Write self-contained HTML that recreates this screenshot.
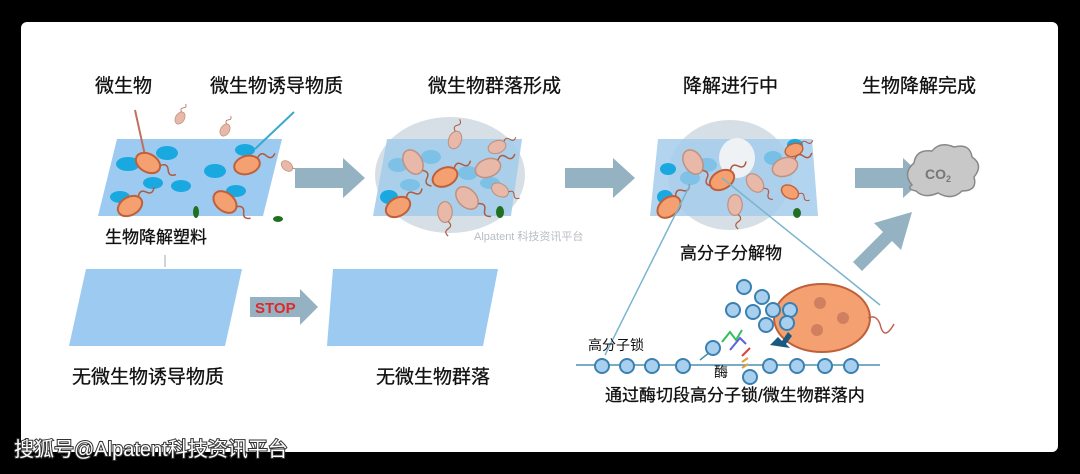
<!DOCTYPE html>
<html><head><meta charset="utf-8"><style>
html,body{margin:0;padding:0;background:#000;}
body{width:1080px;height:474px;overflow:hidden;position:relative;font-family:"Liberation Sans","Noto Sans CJK SC",sans-serif;}
svg{position:absolute;left:0;top:0;}
</style></head><body>
<svg width="1080" height="474" viewBox="0 0 1080 474" xmlns="http://www.w3.org/2000/svg" font-family="Liberation Sans, Noto Sans CJK SC, sans-serif">
<defs>
<g id="bac"><ellipse cx="0" cy="0" rx="13" ry="9" fill="#f4a070" stroke="#c0603a" stroke-width="2"/><path d="M12,-4 q5,-6 9,0 q4,6 9,0" fill="none" stroke="#b05a40" stroke-width="1.5"/></g>
<g id="bacp"><ellipse cx="0" cy="0" rx="13" ry="9" fill="#e8b8a8" stroke="#c09080" stroke-width="1.5"/><path d="M12,-4 q5,-6 9,0 q4,6 9,0" fill="none" stroke="#b05a40" stroke-width="1.5"/></g>
</defs>
<rect x="21" y="22" width="1037" height="430" rx="6" fill="#fff"/>

<!-- Panel 1 -->
<polygon points="117,139 282,139 263,216 98,216" fill="#9ccaf0"/>
<g fill="#1aa8e0">
<ellipse cx="167" cy="153" rx="11" ry="7"/><ellipse cx="128" cy="164" rx="12" ry="7"/><ellipse cx="153" cy="183" rx="10" ry="6"/>
<ellipse cx="181" cy="186" rx="10" ry="6"/><ellipse cx="215" cy="171" rx="11" ry="7"/><ellipse cx="245" cy="150" rx="10" ry="6"/>
<ellipse cx="236" cy="191" rx="10" ry="6"/><ellipse cx="120" cy="197" rx="10" ry="6"/>
</g>
<line x1="135" y1="110" x2="146" y2="160" stroke="#c07060" stroke-width="2"/>
<line x1="255" y1="149" x2="294" y2="112" stroke="#3aa8d0" stroke-width="2"/>
<use href="#bac" transform="translate(148,163) rotate(30)"/>
<use href="#bac" transform="translate(247,165) rotate(-15)"/>
<use href="#bac" transform="translate(130,206) rotate(-30)"/>
<use href="#bac" transform="translate(225,202) rotate(40)"/>
<use href="#bacp" transform="translate(180,118) rotate(-60) scale(0.5)"/>
<use href="#bacp" transform="translate(225,130) rotate(-60) scale(0.5)"/>
<use href="#bacp" transform="translate(287,166) rotate(40) scale(0.5)"/>
<ellipse cx="196" cy="212" rx="3" ry="6" fill="#207020"/>
<ellipse cx="278" cy="219" rx="5" ry="3" fill="#207020"/>
<polygon points="295,168 343,168 343,158 365,178 343,198 343,188 295,188" fill="#95b2c2"/>

<!-- Panel 2 -->
<ellipse cx="450" cy="175" rx="75" ry="58" fill="#d6dfe6"/>
<polygon points="387,139 522,139 511,216 373,216" fill="#a5cdeb" opacity="0.9"/>
<g fill="#60b8e4" opacity="0.6"><ellipse cx="431" cy="157" rx="10" ry="7"/><ellipse cx="398" cy="165" rx="10" ry="7"/><ellipse cx="468" cy="173" rx="10" ry="7"/><ellipse cx="410" cy="185" rx="10" ry="6"/><ellipse cx="490" cy="183" rx="10" ry="6"/></g>
<ellipse cx="389" cy="197" rx="9" ry="7" fill="#1aa8e0"/>
<use href="#bac" transform="translate(398,207) rotate(-30)"/>
<use href="#bac" transform="translate(445,177) rotate(-25)"/>
<use href="#bacp" transform="translate(413,162) rotate(60)"/>
<use href="#bacp" transform="translate(488,168) rotate(-20)"/>
<use href="#bacp" transform="translate(467,198) rotate(45)"/>
<use href="#bacp" transform="translate(500,190) rotate(30) scale(0.7)"/>
<use href="#bacp" transform="translate(455,140) rotate(-70) scale(0.7)"/>
<use href="#bacp" transform="translate(445,212) rotate(90) scale(0.8)"/>
<use href="#bacp" transform="translate(497,147) rotate(-20) scale(0.7)"/>
<ellipse cx="500" cy="212" rx="4" ry="6" fill="#207020"/>
<text x="474" y="240" font-size="11" fill="#b8bcc4">Alpatent  科技资讯平台</text>
<polygon points="565,168 613,168 613,158 635,178 613,198 613,188 565,188" fill="#95b2c2"/>

<!-- Panel 3 -->
<ellipse cx="730" cy="175" rx="62" ry="55" fill="#d6dfe6"/>
<polygon points="658,139 812,139 818,216 650,216" fill="#a5cdeb" opacity="0.85"/>
<ellipse cx="737" cy="158" rx="18" ry="20" fill="#eef2f5"/>
<ellipse cx="668" cy="169" rx="8" ry="6" fill="#1aa8e0"/>
<ellipse cx="665" cy="197" rx="8" ry="7" fill="#1aa8e0"/>
<ellipse cx="707" cy="165" rx="10" ry="7" fill="#60b8e4" opacity="0.6"/>
<ellipse cx="690" cy="178" rx="10" ry="7" fill="#60b8e4" opacity="0.6"/>
<ellipse cx="773" cy="158" rx="9" ry="7" fill="#60b8e4" opacity="0.7"/>
<ellipse cx="795" cy="145" rx="8" ry="6" fill="#1aa8e0"/>
<use href="#bac" transform="translate(722,180) rotate(-30)"/>
<use href="#bac" transform="translate(669,207) rotate(-40)"/>
<use href="#bac" transform="translate(794,150) rotate(-20) scale(0.7)"/>
<use href="#bac" transform="translate(790,192) rotate(30) scale(0.7)"/>
<use href="#bacp" transform="translate(693,162) rotate(60)"/>
<use href="#bacp" transform="translate(785,167) rotate(-20)"/>
<use href="#bacp" transform="translate(755,183) rotate(50) scale(0.8)"/>
<use href="#bacp" transform="translate(735,205) rotate(90) scale(0.8)"/>
<ellipse cx="797" cy="213" rx="4" ry="5" fill="#207020"/>
<polygon points="855,168 903,168 903,158 925,178 903,198 903,188 855,188" fill="#95b2c2"/>
<polygon points="853,262 883,232 874,223 912,212 901,250 892,241 862,271" fill="#95b2c2"/>

<!-- CO2 cloud -->
<g fill="#c8c8c8" stroke="#888" stroke-width="1.5">
<path d="M912,185 q-10,-12 2,-22 q2,-14 18,-12 q8,-10 22,-4 q16,-4 18,10 q12,8 2,20 q4,14 -12,14 q-10,10 -24,2 q-14,6 -22,-2 q-10,-2 -4,-6z"/>
</g>
<text x="925" y="179" font-size="14" fill="#777" font-weight="bold">CO<tspan font-size="9" dy="3">2</tspan></text>

<!-- zoom lines -->
<line x1="690" y1="185" x2="605" y2="355" stroke="#7ab4cc" stroke-width="1.5"/>
<line x1="722" y1="178" x2="880" y2="305" stroke="#7ab4cc" stroke-width="1.5"/>

<!-- detail -->
<line x1="576" y1="365" x2="880" y2="365" stroke="#4a90b0" stroke-width="1.5"/>
<line x1="700" y1="360" x2="715" y2="348" stroke="#4a90b0" stroke-width="1.5"/>
<ellipse cx="822" cy="318" rx="48" ry="34" fill="#f4a070" stroke="#c0603a" stroke-width="2"/>
<circle cx="820" cy="303" r="6" fill="#d08060"/><circle cx="843" cy="318" r="6" fill="#d08060"/><circle cx="817" cy="330" r="6" fill="#d08060"/>
<path d="M868,318 q8,-4 12,6 q4,18 14,0" fill="none" stroke="#c06050" stroke-width="1.5"/>
<g fill="#a8d0ee" stroke="#3a80b0" stroke-width="2">
<circle cx="744" cy="287" r="7"/><circle cx="762" cy="297" r="7"/><circle cx="733" cy="310" r="7"/><circle cx="753" cy="312" r="7"/>
<circle cx="773" cy="310" r="7"/><circle cx="790" cy="310" r="7"/><circle cx="766" cy="325" r="7"/><circle cx="787" cy="323" r="7"/>
<circle cx="602" cy="366" r="7"/><circle cx="627" cy="366" r="7"/><circle cx="652" cy="366" r="7"/><circle cx="683" cy="366" r="7"/><circle cx="713" cy="348" r="7"/>
<circle cx="770" cy="366" r="7"/><circle cx="797" cy="366" r="7"/><circle cx="825" cy="366" r="7"/><circle cx="851" cy="366" r="7"/><circle cx="750" cy="377" r="7"/>
</g>
<g stroke-width="2" fill="none"><path d="M722,342 l8,-10 l6,8 l6,-10" stroke="#30c060"/><path d="M730,350 l10,-12 l6,6" stroke="#6060e0"/><path d="M742,356 l8,-8" stroke="#e04040"/><path d="M742,362 l6,-4 m-6,10 l6,-4" stroke="#e0a040"/></g>
<polygon points="770,345 778,337 782,341 788,332 792,336 786,344 790,348" fill="#1a5a80"/>

<!-- STOP arrow and lower panels -->
<polygon points="86,269 242,269 225,346 69,346" fill="#9ccaf0"/>
<polygon points="333,269 498,269 483,346 327,346" fill="#9ccaf0"/>
<line x1="165" y1="255" x2="165" y2="267" stroke="#9ab" stroke-width="1"/>
<polygon points="250,297 300,297 300,289 318,307 300,325 300,317 250,317" fill="#95b2c2"/>
<text x="255" y="313" font-size="15" font-weight="bold" fill="#e02828">STOP</text>

<!-- labels -->
<g font-size="19" fill="#111" stroke="#111" stroke-width="0.3">
<text x="95" y="92">微生物</text>
<text x="210" y="92">微生物诱导物质</text>
<text x="428" y="92">微生物群落形成</text>
<text x="683" y="92">降解进行中</text>
<text x="862" y="92">生物降解完成</text>
<text x="72" y="383">无微生物诱导物质</text>
<text x="376" y="383">无微生物群落</text>
</g>
<g font-size="17" fill="#111" stroke="#111" stroke-width="0.3">
<text x="105" y="243">生物降解塑料</text>
<text x="680" y="259">高分子分解物</text>
<text x="605" y="401">通过酶切段高分子锁/微生物群落内</text>
</g>
<text x="588" y="350" font-size="14" fill="#111">高分子锁</text>
<text x="714" y="377" font-size="14" fill="#111">酶</text>

<text x="14" y="456" font-size="20" fill="#fff" stroke="#333" stroke-width="2" paint-order="stroke">搜狐号@Alpatent科技资讯平台</text>
</svg>
</body></html>
